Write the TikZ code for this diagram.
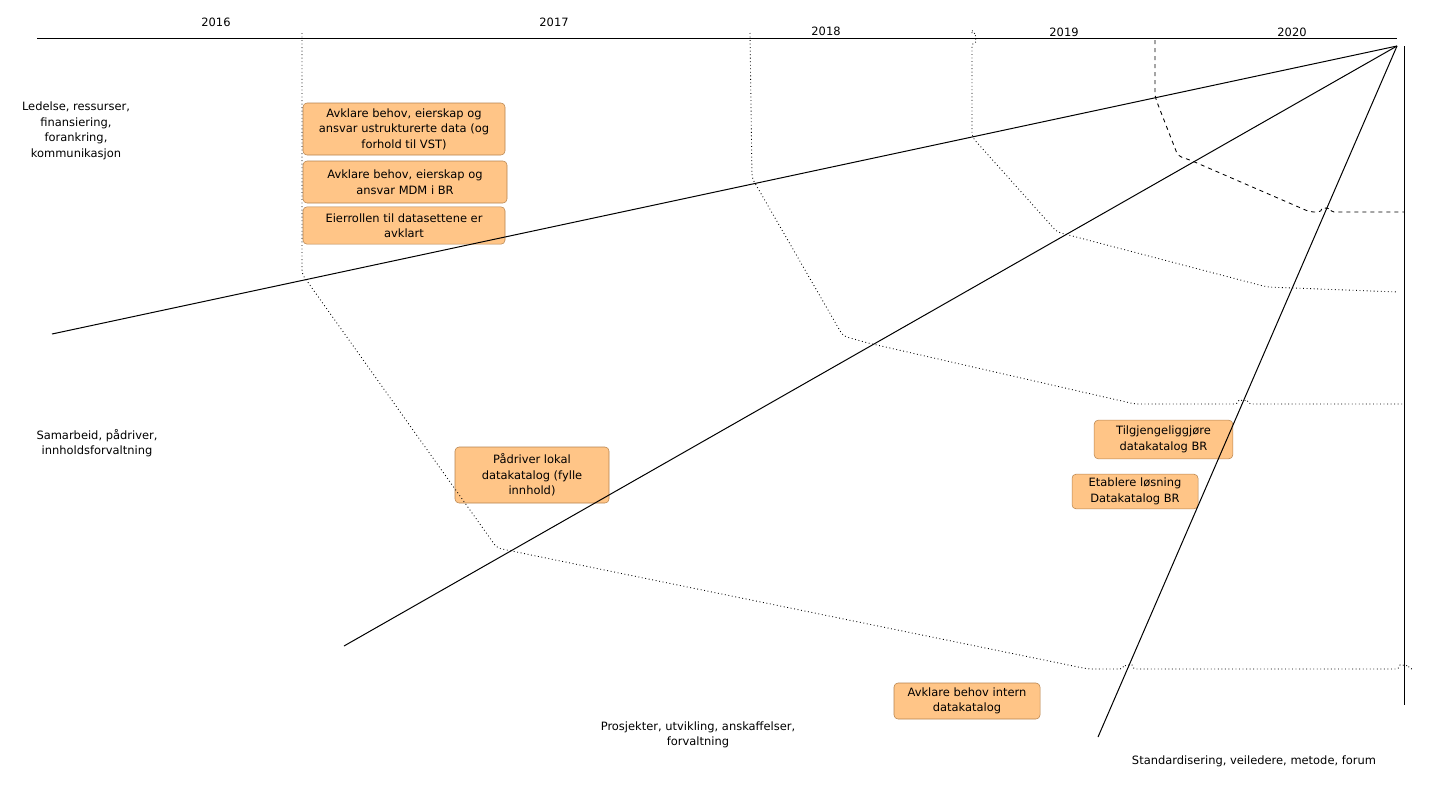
\documentclass[tikz,border=0pt]{standalone}
\usepackage{fontspec}
\setmainfont{DejaVu Sans}
\definecolor{taskfill}{RGB}{255,197,135}
\definecolor{taskline}{RGB}{182,131,78}
\begin{document}
\begin{tikzpicture}[x=0.75pt,y=-0.75pt,
    every node/.style={font=\fontsize{8.6}{11.6}\selectfont, align=center},
    task/.style={draw=taskline, fill=taskfill, rounded corners=3pt, inner sep=0pt},
    axisline/.style={line width=0.75pt},
    yearline/.style={dotted, black, line width=0.65pt, rounded corners=3pt},
    lastyear/.style={dashed, line width=0.65pt, rounded corners=3pt}]
    \useasboundingbox (0,0) rectangle (1451,789);

    % Years along the top
    \draw[axisline] (37,38) -- (1397,38);
    \node (y2016) at (216,22) {2016};
    \node (y2017) at (554,22) {2017};
    \node (y2018) at (826,31) {2018};
    \node (y2019) at (1064,32) {2019};
    \node (y2020) at (1292,32) {2020};

    % Areas
    \node (ledelse) at (76,131) {Ledelse, ressurser,\\finansiering,\\forankring,\\kommunikasjon};
    \node (samarbeid) at (97,443) {Samarbeid, p\aa driver,\\innholdsforvaltning};
    \node (prosjekter) at (698,735) {Prosjekter, utvikling, anskaffelser,\\forvaltning};
    \node (standard) at (1254,761) {Standardisering, veiledere, metode, forum};

    % Tasks
    \node[task, minimum width=151.5pt, minimum height=39pt] (ustrukturert) at (404,129)
        {Avklare behov, eierskap og\\ansvar ustrukturerte data (og\\forhold til VST)};
    \node[task, minimum width=153pt, minimum height=31.5pt] (mdm) at (405,182)
        {Avklare behov, eierskap og\\ansvar MDM i BR};
    \node[task, minimum width=151.5pt, minimum height=28pt] (eierrollen) at (404,225.5)
        {Eierrollen til datasettene er\\avklart};
    \node[task, minimum width=115.5pt, minimum height=42pt] (paadriver) at (532,475)
        {P\aa driver lokal\\datakatalog (fylle\\innhold)};
    \node[task, minimum width=104pt, minimum height=29pt] (tilgjengelig) at (1163.5,439.5)
        {Tilgjengeliggj\o re\\datakatalog BR};
    \node[task, minimum width=94.5pt, minimum height=26pt] (etablere) at (1135,491.5)
        {Etablere l\o sning\\Datakatalog BR};
    \node[task, minimum width=109.5pt, minimum height=27pt] (internkatalog) at (967,701)
        {Avklare behov intern\\datakatalog};

    % Axes from the common corner
    \coordinate (apex) at (1397,46);
    \coordinate (endLedelse) at (52,334);
    \coordinate (endSamarbeid) at (344,646);
    \coordinate (endProsjekter) at (1098,737);
    \coordinate (topStandard) at (1404,46);
    \coordinate (endStandard) at (1404,705);
    \draw[axisline] (apex) -- (endLedelse);
    \draw[axisline] (apex) -- (endSamarbeid);
    \draw[axisline] (apex) -- (endProsjekter);
    \draw[axisline] (topStandard) -- (endStandard);

    % Year boundaries
    \draw[yearline] (302,33) -- (302,274) -- (497,548) -- (1088,669) -- (1124,669)
        arc[start angle=180, end angle=0, radius=3pt] -- (1400,669)
        arc[start angle=180, end angle=0, radius=3pt] -- (1412,669);
    \draw[yearline] (750,33) -- (752,178) -- (843,336) -- (868,343) -- (1135,404) -- (1239,404)
        arc[start angle=180, end angle=0, radius=3pt] -- (1404,404);
    \draw[yearline] (972,33) -- (972,34) arc[start angle=90, end angle=-90, radius=3pt]
        -- (972,137) -- (1057,232) -- (1267,287) -- (1398,292);
    \draw[lastyear] (1155,40) -- (1155,97) -- (1178,156) -- (1190,160) -- (1310,212) -- (1322,212)
        arc[start angle=180, end angle=0, radius=3pt] -- (1404,212);
\end{tikzpicture}
\end{document}
